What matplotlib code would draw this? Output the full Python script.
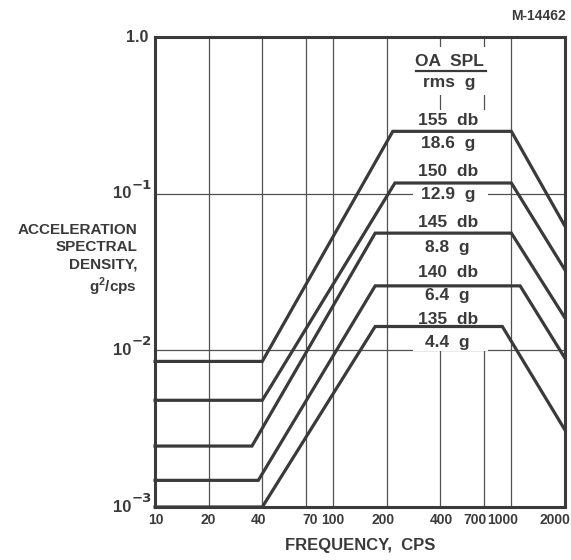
import numpy as np
import matplotlib
matplotlib.use("Agg")
import matplotlib.pyplot as plt
from matplotlib.patches import Rectangle
from matplotlib.transforms import ScaledTranslation

plt.rcParams['font.family'] = ['Liberation Sans', 'DejaVu Sans']
plt.rcParams['mathtext.fontset'] = 'custom'
plt.rcParams['mathtext.rm'] = 'Liberation Sans:bold'
plt.rcParams['mathtext.bf'] = 'Liberation Sans:bold'

# Corner frequencies (cps) and PSD levels (g^2/cps)
freq_155 = [10, 40, 216, 1000, 2000]
psd_155 = [0.0085, 0.0085, 0.25, 0.25, 0.062]
freq_150 = [10, 40, 222, 1000, 2000]
psd_150 = [0.0048, 0.0048, 0.117, 0.117, 0.0326]
freq_145 = [10, 35, 172, 1000, 2000]
psd_145 = [0.00245, 0.00245, 0.056, 0.056, 0.0161]
freq_140 = [10, 38, 172, 1120, 2000]
psd_140 = [0.00148, 0.00148, 0.0258, 0.0258, 0.0089]
freq_135 = [10, 40, 172, 890, 2000]
psd_135 = [0.001, 0.001, 0.0142, 0.0142, 0.0031]

spl_labels = ["155  db", "150  db", "145  db", "140  db", "135  db"]
rms_labels = ["18.6  g", "12.9  g", "8.8  g", "6.4  g", "4.4  g"]

x_ticks = [10, 20, 40, 70, 100, 200, 400, 700, 1000, 2000]
x_ticklabels = ["10", "20", "40", "70", "100", "200", "400", "700", "1000", "2000"]
y_decades = [1e-3, 1e-2, 1e-1]
y_exponents = ["\u22123", "\u22122", "\u22121"]

ink = "#3a3a3a"

fig = plt.figure(figsize=(5.71, 5.6), dpi=100)
ax = fig.add_axes([0.2715, 0.0946, 0.718, 0.8393])
ax.set_xscale("log")
ax.set_yscale("log")
ax.set_xlim(10, 2000)
ax.set_ylim(1e-3, 1.0)

# grid
for xv in x_ticks[1:-1]:
    ax.axvline(xv, color="#505050", lw=0.9, zorder=1)
for yv in [1e-2, 1e-1]:
    ax.axhline(yv, color="#505050", lw=0.9, zorder=1)

# white area behind the label column
ax.add_patch(Rectangle((0.629, 0.877), 0.183, 0.102, transform=ax.transAxes,
                       facecolor="white", edgecolor="none", zorder=2))
ax.add_patch(Rectangle((0.629, 0.332), 0.183, 0.513, transform=ax.transAxes,
                       facecolor="white", edgecolor="none", zorder=2))

for f, p in [(freq_155, psd_155), (freq_150, psd_150), (freq_145, psd_145),
             (freq_140, psd_140), (freq_135, psd_135)]:
    ax.plot(f, p, color=ink, lw=2.3, solid_joinstyle="miter", zorder=4, clip_on=False)

# label column
tx = 0.714
lab_kw = dict(transform=ax.transAxes, ha="center", va="center", fontsize=12.5,
              fontweight="bold", color=ink, zorder=5)
ax.text(tx + 0.003, 0.947, "OA  SPL", **lab_kw)
ax.plot([0.637, 0.807], [0.928, 0.928], transform=ax.transAxes, color=ink, lw=1.6, zorder=5)
ax.text(tx + 0.003, 0.904, "rms  g", **lab_kw)
spl_y = [0.823, 0.713, 0.606, 0.498, 0.400]
rms_y = [0.774, 0.664, 0.553, 0.451, 0.351]
for s, r, ys, yr in zip(spl_labels, rms_labels, spl_y, rms_y):
    ax.text(tx, ys, s, **lab_kw)
    ax.text(tx, yr, r, **lab_kw)

ax.set_xticks(x_ticks)
ax.set_xticklabels(x_ticklabels)
ax.set_yticks([])
ax.minorticks_off()
ax.tick_params(length=0, labelcolor=ink)
ax.tick_params(axis="x", pad=4, labelsize=10)
for lab in ax.get_xticklabels():
    lab.set_fontweight("bold")

# nudge crowded frequency labels as on the original sheet
x_shift = [1, 0, -4, 5, 0, -4, 1, -9, -9, -10]
for lab, dx in zip(ax.get_xticklabels(), x_shift):
    lab.set_transform(lab.get_transform() + ScaledTranslation(dx / 100, 0, fig.dpi_scale_trans))

# y decade labels: 10 with a raised exponent
for yv, ex in zip(y_decades, y_exponents):
    ax.annotate("10", xy=(0, yv), xycoords=("axes fraction", "data"), xytext=(-24, 0),
                textcoords="offset pixels", ha="right", va="center", fontsize=12,
                fontweight="bold", color=ink, annotation_clip=False)
    ax.annotate(ex, xy=(0, yv), xycoords=("axes fraction", "data"), xytext=(-23, 5),
                textcoords="offset pixels", ha="left", va="baseline", fontsize=9.5,
                fontweight="bold", color=ink, family=["DejaVu Sans"], annotation_clip=False)
ax.annotate("1.0", xy=(0, 1.0), xycoords=("axes fraction", "data"), xytext=(-7, 0),
            textcoords="offset pixels", ha="right", va="center", fontsize=11.5,
            fontweight="bold", color=ink, annotation_clip=False)

for sp in ax.spines.values():
    sp.set_linewidth(2.2)
    sp.set_color(ink)
    sp.set_zorder(6)

ax.set_xlabel("FREQUENCY,  CPS", fontsize=12, fontweight="bold", color=ink, labelpad=8)
fig.text(0.24, 0.535, "ACCELERATION\nSPECTRAL\nDENSITY,\n" + r"g$^{2}$/cps", ha="right",
         va="center", multialignment="right", fontsize=11, fontweight="bold", color=ink,
         linespacing=1.3)
fig.text(0.99, 0.972, "M-14462", ha="right", va="center", fontsize=10,
         fontweight="bold", color=ink)

fig.savefig("out.png", dpi=100, facecolor="white")
